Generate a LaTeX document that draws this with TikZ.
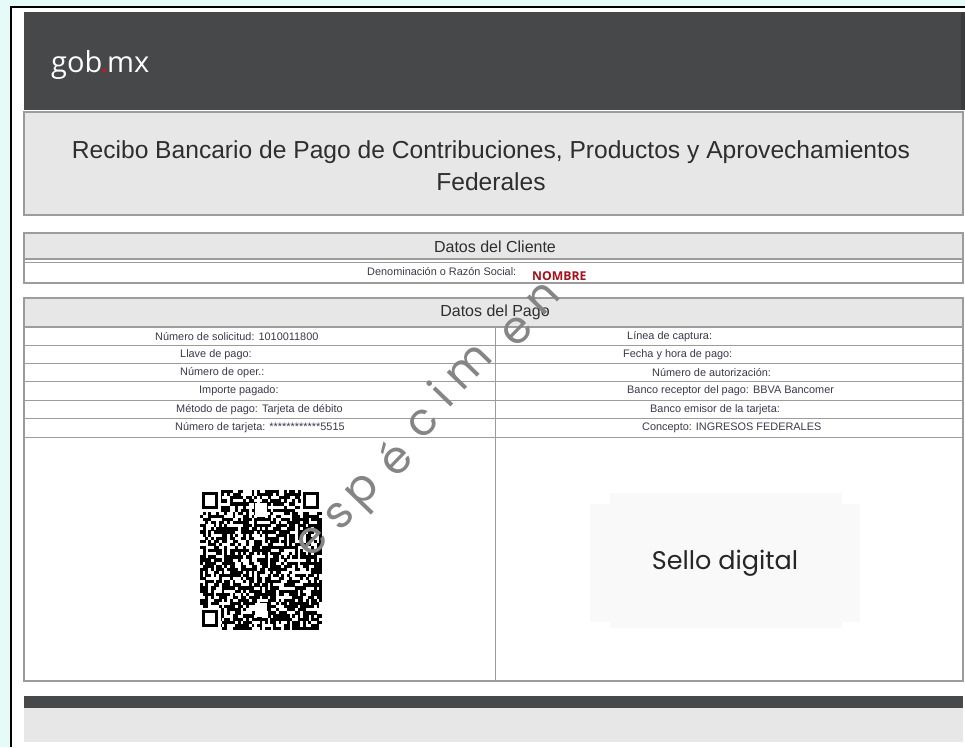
\documentclass[tikz,border=0pt]{standalone}
\usepackage{fontspec}
\setmainfont{Liberation Sans}
\newfontfamily\logofont{Open Sans}
\newfontfamily\gothic{Poppins}
\definecolor{bgc}{HTML}{E4FBF7}
\definecolor{darkhdr}{HTML}{47484A}
\definecolor{darkedge}{HTML}{3A3B3D}
\definecolor{boxgray}{HTML}{E7E7E7}
\definecolor{linegray}{HTML}{9C9C9C}
\definecolor{titlec}{HTML}{2E2E2E}
\definecolor{smallc}{HTML}{3A3A4C}
\definecolor{nombrec}{HTML}{A3121C}
\definecolor{logored}{HTML}{D2102A}
\definecolor{sellobg}{HTML}{F9F9F9}
\definecolor{wmc}{HTML}{858585}
\tikzset{
  boxline/.style={draw=linegray, line width=1.2pt},
  rowline/.style={draw=linegray, line width=1pt},
  small/.style={anchor=west, text=smallc, inner sep=0pt, font=\fontsize{10.9}{12}\selectfont},
  hdrtext/.style={text=titlec, inner sep=0pt, font=\fontsize{16}{18}\selectfont},
  wm/.style={anchor=base, rotate=46, text=wmc, inner sep=0pt, font=\gothic\fontsize{45}{47}\selectfont},
}
\begin{document}
\begin{tikzpicture}[x=1pt,y=-1pt]
\useasboundingbox (0,0) rectangle (965,747);
\fill[bgc] (0,0) rectangle (965,747);
\fill[white] (10,6) rectangle (965,747);
\draw[line width=1.5pt] (10.75,747) -- (10.75,6.75) -- (965,6.75);

% header
\fill[darkhdr] (24,12) rectangle (963,110);
\fill[darkedge] (961,12) rectangle (965,110);
\node[anchor=base west, inner sep=0pt, text=white, font=\logofont\fontsize{29}{31}\selectfont] (logo) at (51,72) {gob\kern-1.5pt\textcolor{logored}{.}\kern-1.5pt mx};

% title box
\filldraw[fill=boxgray, boxline] (24,112) rectangle (963,215);
\node[anchor=base, inner sep=0pt, text=titlec, font=\fontsize{24.6}{28}\selectfont] (title1) at (491,158) {Recibo Bancario de Pago de Contribuciones, Productos y Aprovechamientos};
\node[anchor=base, inner sep=0pt, text=titlec, font=\fontsize{24.6}{28}\selectfont] (title2) at (491,190) {Federales};

% Datos del Cliente
\filldraw[fill=boxgray, boxline] (24,233) rectangle (963,259);
\draw[rowline] (24,262) -- (963,262);
\draw[boxline] (24,259) -- (24,283) -- (963,283) -- (963,259);
\node[hdrtext] (cliente) at (495,246.5) {Datos del Cliente};
\node[small] (denom) at (367,272) {Denominación o Razón Social:};
\node[anchor=west, inner sep=0pt, text=nombrec, font=\logofont\bfseries\fontsize{12.2}{14}\selectfont] (nombre) at (532,276) {NOMBRE};

% Datos del Pago
\filldraw[fill=boxgray, boxline] (24,298) rectangle (963,327);
\draw[boxline] (24,327) -- (24,681) -- (963,681) -- (963,327);
\fill[sellobg] (610,493) rectangle (842,628);
\fill[sellobg] (590,504) rectangle (860,622);
\foreach \yy in {345.5,363.5,381.8,400.2,418.6,437}{
  \draw[rowline] (24,\yy) -- (963,\yy);
}
\draw[rowline] (495,327) -- (495,681);
\node[hdrtext] (pago) at (495,312.5) {Datos del Pago};

\node[small] (l1) at (155,336.5) {Número de solicitud: 1010011800};
\node[small] (l2) at (180,354.5) {Llave de pago:};
\node[small] (l3) at (180,372.8) {Número de oper.:};
\node[small] (l4) at (199,391) {Importe pagado:};
\node[small] (l5) at (176,409.5) {Método de pago: Tarjeta de débito};
\node[small] (l6) at (175,428) {Número de tarjeta: ************5515};

\node[small] (r1) at (627,336.5) {Línea de captura:};
\node[small] (r2) at (623,354.5) {Fecha y hora de pago:};
\node[small] (r3) at (652,372.8) {Número de autorización:};
\node[small] (r4) at (627,391) {Banco receptor del pago: BBVA Bancomer};
\node[small] (r5) at (650,409.5) {Banco emisor de la tarjeta:};
\node[small] (r6) at (642,428) {Concepto: INGRESOS FEDERALES};

% QR code
\begin{scope}[shift={(200,490)}]
\pgfmathsetseed{4242}
\foreach \i in {0,...,44}{
  \foreach \j in {0,...,44}{
    \pgfmathrandominteger{\r}{0}{99}
    \ifnum\r<56 \fill[black] ({\i*2.711},{\j*3.111}) rectangle ++(2.8,3.2); \fi
  }
}
\end{scope}
\foreach \fx/\fy in {202/492, 303/492, 202/610}{
  \fill[white] (\fx-2,\fy-2) rectangle (\fx+19,\fy+20);
  \fill[black] (\fx,\fy) rectangle (\fx+16,\fy+17);
  \fill[white] (\fx+3,\fy+3) rectangle (\fx+13,\fy+14);
}
\fill[white] (255,503) rectangle (267,517);
\fill[white] (255,603) rectangle (267,617);

% Sello digital
\node[inner sep=0pt, text=black!85, font=\gothic\fontsize{25.5}{28}\selectfont] (sello) at (725,563) {Sello digital};

% bottom bars
\fill[darkhdr] (24,696) rectangle (963,708);
\fill[boxgray] (24,708) rectangle (963,742);

% watermark
\node[wm] (w1) at (321,549) {e};
\node[wm] (w2) at (349,524) {s};
\node[wm] (w3) at (371,499) {p};
\node[wm] (w4) at (406,469) {é};
\node[wm] (w5) at (432,432) {c};
\node[wm] (w6) at (452,406) {i};
\node[wm] (w7) at (479,376) {m};
\node[wm] (w8) at (526,339) {e};
\node[wm] (w9) at (552,307) {n};
\end{tikzpicture}
\end{document}
